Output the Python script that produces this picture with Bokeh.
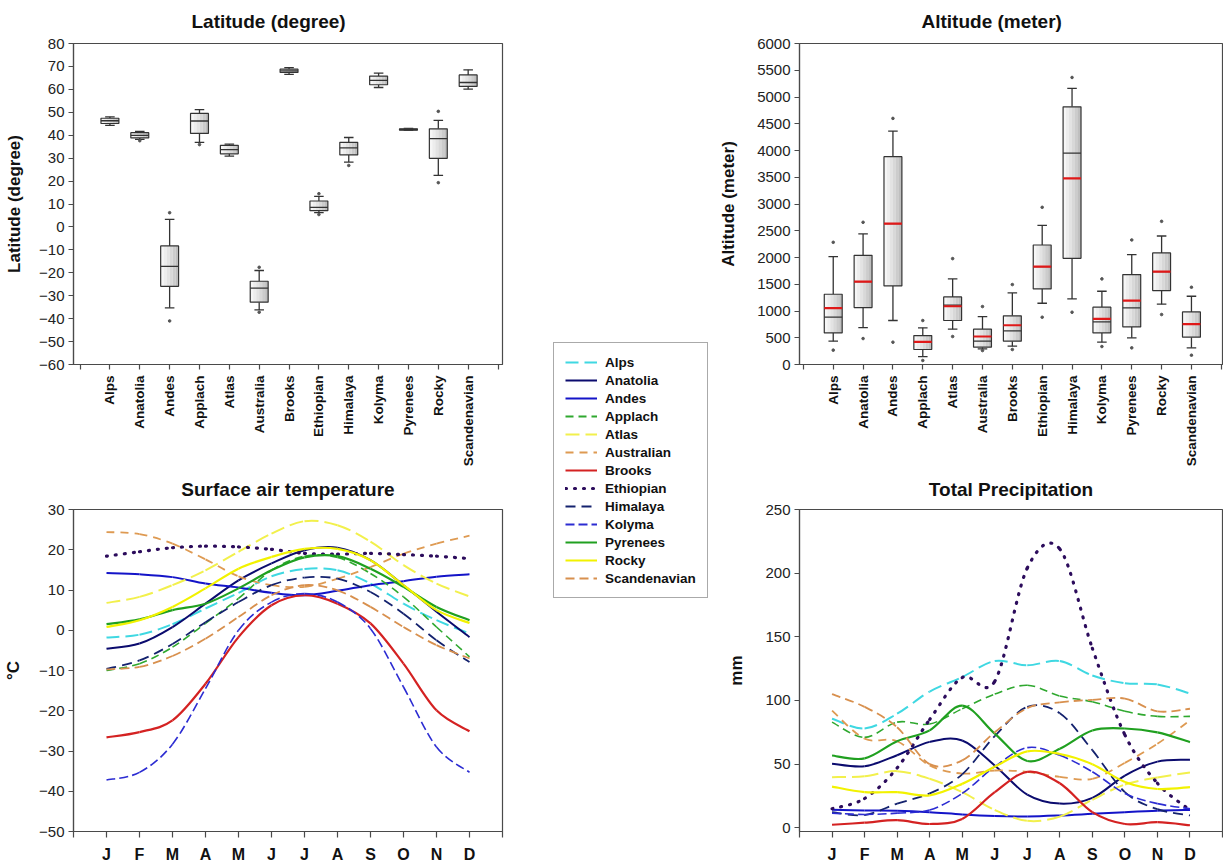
import numpy as np
from bokeh.plotting import figure
from bokeh.models import Range1d, FixedTicker, ColumnDataSource, Legend, LegendItem
from bokeh.layouts import row, column
from bokeh.transform import dodge
from bokeh.embed import file_html
from bokeh.resources import INLINE

FONT = "Liberation Sans"

# ---------------------------------------------------------------- data
regions = ["Alps", "Anatolia", "Andes", "Applach", "Atlas", "Australia", "Brooks",
           "Ethiopian", "Himalaya", "Kolyma", "Pyrenees", "Rocky", "Scandenavian"]

# latitude of the stations (degree): box-plot statistics per region
lat_min = [44.3, 38.2, -35.3, 36.9, 30.9, -36.2, 66.5, 6.2, 28.3, 60.8, 42.1, 22.5, 60.1]
lat_q1 = [45.1, 38.8, -25.9, 40.8, 31.9, -32.8, 67.4, 7.1, 31.4, 62.0, 42.2, 29.9, 61.3]
lat_med = [46.3, 39.9, -17.2, 46.2, 33.7, -26.7, 68.1, 8.5, 34.5, 63.9, 42.5, 38.5, 63.0]
lat_q3 = [47.4, 41.1, -8.3, 49.5, 35.6, -23.7, 68.8, 11.3, 36.9, 65.8, 42.8, 42.8, 66.3]
lat_max = [48.0, 41.7, 3.3, 51.2, 36.1, -19.0, 69.5, 13.3, 39.0, 67.1, 43.0, 46.5, 68.5]
lat_out_region = ["Anatolia", "Andes", "Andes", "Applach", "Australia", "Australia",
                  "Ethiopian", "Ethiopian", "Himalaya", "Rocky", "Rocky"]
lat_out_value = [37.6, 6.2, -41.0, 35.9, -17.6, -37.2, 14.5, 5.4, 26.8, 50.4, 19.3]

# altitude of the stations (meter): box-plot statistics per region, plus mean
alt_min = [436, 691, 822, 149, 660, 292, 342, 1145, 1226, 417, 498, 1127, 311]
alt_q1 = [591, 1064, 1469, 280, 822, 324, 436, 1413, 1985, 591, 703, 1382, 510]
alt_med = [884, 1550, 2633, 423, 1110, 436, 629, 1830, 3952, 797, 1058, 1736, 753]
alt_mean = [1052, 1550, 2633, 423, 1089, 523, 734, 1830, 3479, 853, 1195, 1736, 753]
alt_q3 = [1313, 2041, 3884, 541, 1263, 660, 909, 2234, 4817, 1071, 1680, 2085, 983]
alt_max = [2017, 2440, 4363, 685, 1600, 896, 1338, 2602, 5160, 1369, 2054, 2402, 1276]
alt_out_hi = [2284, 2658, 4600, 822, 1979, 1083, 1494, 2938, 5365, 1600, 2328, 2676, 1444]
alt_out_lo = [268, 485, 417, 75, 523, 261, 280, 884, 977, 336, 311, 934, 174]

months = ["J", "F", "M", "A", "M", "J", "J", "A", "S", "O", "N", "D"]
series = ["Alps", "Anatolia", "Andes", "Applach", "Atlas", "Australian", "Brooks",
          "Ethiopian", "Himalaya", "Kolyma", "Pyrenees", "Rocky", "Scandenavian"]

# monthly surface air temperature (deg C)
t_alps = [-1.8, -1.1, 1.5, 5.4, 9.3, 13.4, 15.2, 14.9, 11.6, 6.6, 2.5, -0.8]
t_anatolia = [-4.6, -3.3, 0.8, 6.6, 12.4, 16.6, 19.9, 20.5, 17.4, 11.2, 4.6, -1.7]
t_andes = [14.2, 13.9, 13.2, 11.6, 10.6, 9.3, 8.7, 9.8, 11.2, 12.2, 13.3, 13.9]
t_applach = [-10.0, -8.3, -4.2, 1.7, 7.9, 14.9, 18.4, 18.1, 14.1, 8.3, 0.8, -6.6]
t_atlas = [6.8, 8.3, 11.2, 14.9, 19.5, 24.0, 27.1, 26.1, 22.0, 16.2, 11.6, 8.4]
t_australian = [24.4, 23.9, 21.5, 17.6, 13.4, 11.2, 10.8, 12.8, 15.7, 19.0, 21.5, 23.5]
t_brooks = [-26.6, -25.3, -22.4, -13.3, -1.7, 6.2, 8.7, 6.6, 1.7, -8.3, -19.9, -25.1]
t_ethiopian = [18.4, 19.5, 20.5, 20.9, 20.7, 20.1, 19.1, 18.9, 19.1, 18.8, 18.4, 17.8]
t_himalaya = [-9.6, -7.5, -3.4, 2.0, 7.0, 11.2, 13.1, 12.8, 9.5, 4.1, -2.5, -7.9]
t_kolyma = [-37.2, -35.3, -28.3, -14.5, 0.0, 7.0, 9.1, 7.0, 0.4, -14.1, -29.0, -35.3]
t_pyrenees = [1.5, 2.7, 5.0, 6.6, 10.4, 14.9, 18.1, 18.4, 15.3, 10.8, 5.8, 2.5]
t_rocky = [0.8, 2.5, 5.8, 10.4, 15.3, 18.2, 20.2, 20.2, 17.4, 11.2, 5.0, 1.8]
t_scandenavian = [-9.7, -9.1, -6.4, -2.1, 3.3, 8.7, 11.2, 9.9, 5.8, 0.8, -3.7, -7.0]

# monthly total precipitation (mm)
p_alps = [85.7, 78.0, 89.6, 107.0, 118.4, 131.0, 127.6, 131.0, 119.6, 113.6, 112.6, 105.5]
p_anatolia = [50.3, 48.3, 57.0, 67.5, 68.6, 49.0, 26.0, 19.0, 23.5, 41.0, 52.0, 53.4]
p_andes = [14.2, 13.6, 13.4, 12.3, 10.5, 9.3, 8.9, 9.7, 11.0, 12.3, 13.4, 14.0]
p_applach = [83.0, 71.0, 83.0, 81.5, 93.5, 105.0, 112.0, 103.5, 99.0, 91.5, 87.5, 87.5]
p_atlas = [39.8, 40.5, 44.5, 38.5, 28.0, 14.0, 5.5, 8.8, 22.0, 34.0, 39.5, 43.5]
p_australian = [92.0, 70.0, 68.0, 49.0, 42.6, 45.0, 44.0, 40.0, 38.5, 51.0, 66.0, 84.3]
p_brooks = [2.4, 4.0, 6.0, 3.0, 7.0, 28.0, 44.0, 35.0, 12.3, 3.0, 4.4, 2.0]
p_ethiopian = [15.0, 23.0, 47.0, 85.0, 118.0, 115.0, 204.0, 219.0, 141.0, 73.0, 35.0, 14.0]
p_himalaya = [12.3, 10.0, 19.0, 27.0, 42.0, 72.0, 95.0, 90.0, 61.0, 28.0, 14.6, 9.7]
p_kolyma = [11.5, 10.5, 11.5, 14.0, 27.0, 48.0, 63.0, 57.0, 44.0, 27.0, 19.0, 15.0]
p_pyrenees = [56.8, 54.5, 68.0, 76.5, 96.0, 74.0, 52.5, 62.0, 76.4, 78.0, 75.0, 67.3]
p_rocky = [32.4, 28.0, 28.0, 25.5, 34.5, 48.0, 60.0, 58.0, 50.0, 36.0, 30.5, 32.0]
p_scandenavian = [105.0, 95.0, 79.0, 50.0, 53.0, 75.0, 94.0, 98.5, 100.5, 101.5, 91.5, 93.5]

temperature = [t_alps, t_anatolia, t_andes, t_applach, t_atlas, t_australian, t_brooks,
               t_ethiopian, t_himalaya, t_kolyma, t_pyrenees, t_rocky, t_scandenavian]
precipitation = [p_alps, p_anatolia, p_andes, p_applach, p_atlas, p_australian, p_brooks,
                 p_ethiopian, p_himalaya, p_kolyma, p_pyrenees, p_rocky, p_scandenavian]

# ---------------------------------------------------------------- line styles
line_colors = ["#3fd8e2", "#0b0b6e", "#1414c8", "#2fa82f", "#f2f04c", "#de9a52", "#d42222",
               "#2c0c5c", "#14226e", "#2c2cd2", "#20a020", "#f2f200", "#d8904e"]
line_dashes = ["13 6", "solid", "solid", "8 5", "14 6", "8 6", "solid",
               "1 8", "10 6", "9 4", "solid", "solid", "9 5"]
line_widths = [2, 2, 2, 1.6, 2, 1.8, 2.2, 3.2, 1.8, 1.6, 2.2, 2.2, 1.8]
DOTTED = "1 8"

AX = "#4a4a4a"


def style_axes(p, label_standoff):
    p.grid.visible = False
    p.outline_line_color = AX
    p.outline_line_width = 1.2
    p.background_fill_color = "white"
    p.border_fill_color = "white"
    for ax in p.axis:
        ax.axis_line_color = AX
        ax.axis_line_width = 1.2
        ax.major_tick_line_color = AX
        ax.major_tick_line_width = 1.2
        ax.minor_tick_line_color = None
        ax.major_tick_in = 0
        ax.major_tick_out = 5
        ax.major_label_text_font = FONT
        ax.major_label_text_font_size = "15px"
        ax.major_label_text_color = "#222222"
        ax.axis_label_text_font = FONT
        ax.axis_label_text_font_style = "bold"
        ax.axis_label_text_font_size = "17px"
        ax.axis_label_text_color = "#111111"
        ax.axis_label_standoff = label_standoff
    p.yaxis.major_label_standoff = 4
    p.title.text_font = FONT
    p.title.text_font_size = "19px"
    p.title.text_font_style = "bold"
    p.title.text_color = "#111111"
    p.title.vertical_align = "top"


def box_panel(title, ylabel, yr, ystep, mins, q1, med, q3, maxs, out_x, out_v,
              xr, width, borders, title_offset, label_standoff, mean=None):
    p = figure(width=width, height=470, output_backend="svg", toolbar_location=None,
               x_range=Range1d(*xr), y_range=Range1d(*yr), title=title,
               min_border_left=borders[0], min_border_right=borders[1],
               min_border_top=43, min_border_bottom=106)
    style_axes(p, label_standoff)
    p.title.align = "left"
    p.title.offset = title_offset
    p.title.standoff = 19
    p.yaxis.axis_label = ylabel
    p.yaxis.ticker = FixedTicker(ticks=list(np.arange(yr[0], yr[1] + 1, ystep)))
    pos = list(range(1, len(regions) + 1))
    p.xaxis.ticker = FixedTicker(ticks=list(range(0, len(regions) + 2)))
    overrides = {i + 1: name for i, name in enumerate(regions)}
    overrides[0] = ""
    overrides[len(regions) + 1] = ""
    p.xaxis.major_label_overrides = overrides
    p.xaxis.major_label_orientation = np.pi / 2
    p.xaxis.major_label_text_font_style = "bold"
    p.xaxis.major_label_text_font_size = "13.5px"
    p.xaxis.major_label_text_color = "#111111"
    p.xaxis.major_label_standoff = 6

    src = ColumnDataSource(dict(x=pos, lo=mins, q1=q1, med=med, q3=q3, hi=maxs))
    bw = 0.6
    # whiskers and caps
    p.segment(x0="x", y0="q3", x1="x", y1="hi", source=src, line_color="#333333", line_width=1.3)
    p.segment(x0="x", y0="lo", x1="x", y1="q1", source=src, line_color="#333333", line_width=1.3)
    for key in ("lo", "hi"):
        p.segment(x0=dodge("x", -0.16), y0=key, x1=dodge("x", 0.16), y1=key, source=src,
                  line_color="#333333", line_width=1.3)
    # shaded box body
    shades = ["#f6f6f6", "#ededed", "#e3e3e3", "#d8d8d8", "#cccccc", "#bfbfbf"]
    sw = bw / len(shades)
    for k, c in enumerate(shades):
        p.vbar(x=dodge("x", -bw / 2 + (k + 0.5) * sw), width=sw * 1.02, bottom="q1", top="q3",
               source=src, fill_color=c, line_color=None)
    p.vbar(x="x", width=bw, bottom="q1", top="q3", source=src, fill_color=None,
           line_color="#333333", line_width=1.2)
    p.segment(x0=dodge("x", -bw / 2), y0="med", x1=dodge("x", bw / 2), y1="med", source=src,
              line_color="#333333", line_width=1.3)
    if mean is not None:
        msrc = ColumnDataSource(dict(x=pos, m=mean))
        p.segment(x0=dodge("x", -bw / 2), y0="m", x1=dodge("x", bw / 2), y1="m", source=msrc,
                  line_color="#e01818", line_width=2.2)
    ox = [regions.index(r) + 1 for r in out_x]
    p.scatter(x=ox, y=out_v, size=2.6, color="#555555")
    return p


def spline_segments(xs, ys):
    x = np.asarray(xs, float)
    y = np.asarray(ys, float)
    xp = np.r_[x[0], x, x[-1]]
    yp = np.r_[y[0], y, y[-1]]
    i = np.arange(len(x) - 1)
    return dict(x0=xp[i + 1], y0=yp[i + 1], x1=xp[i + 2], y1=yp[i + 2],
                cx0=xp[i + 1] + (xp[i + 2] - xp[i]) / 6, cy0=yp[i + 1] + (yp[i + 2] - yp[i]) / 6,
                cx1=xp[i + 2] - (xp[i + 3] - xp[i + 1]) / 6, cy1=yp[i + 2] - (yp[i + 3] - yp[i + 1]) / 6)


def month_panel(title, ylabel, yr, ystep, data, width, borders, label_standoff):
    p = figure(width=width, height=395, output_backend="svg", toolbar_location=None,
               x_range=Range1d(0, 13), y_range=Range1d(*yr), title=title,
               min_border_left=borders[0], min_border_right=borders[1],
               min_border_top=39, min_border_bottom=34)
    style_axes(p, label_standoff)
    p.title.align = "center"
    p.title.standoff = 15
    p.yaxis.axis_label = ylabel
    lo = int(np.ceil(yr[0] / ystep) * ystep)
    p.yaxis.ticker = FixedTicker(ticks=list(range(lo, int(yr[1]) + 1, ystep)))
    p.xaxis.ticker = FixedTicker(ticks=list(range(0, 14)))
    ov = {i + 1: m for i, m in enumerate(months)}
    ov[0] = ""
    ov[13] = ""
    p.xaxis.major_label_overrides = ov
    p.xaxis.major_label_text_font_style = "bold"
    p.xaxis.major_label_text_font_size = "16px"
    p.xaxis.major_label_text_color = "#111111"
    p.xaxis.major_label_standoff = 8
    p.xaxis.major_tick_out = 6
    mx = list(range(1, 13))
    for vals, c, d, w in zip(data, line_colors, line_dashes, line_widths):
        seg = ColumnDataSource(spline_segments(mx, vals))
        p.bezier(x0="x0", y0="y0", x1="x1", y1="y1", cx0="cx0", cy0="cy0", cx1="cx1", cy1="cy1",
                 source=seg, line_color=c, line_width=w, line_dash=d,
                 line_cap="round" if d == DOTTED else "butt")
    return p


lat = box_panel("Latitude (degree)", "Latitude (degree)", (-60, 80), 10,
                lat_min, lat_q1, lat_med, lat_q3, lat_max, lat_out_region, lat_out_value,
                xr=(-0.22, 14.15), width=520, borders=(71, 18), title_offset=118,
                label_standoff=12)
alt = box_panel("Altitude (meter)", "Altitude (meter)", (0, 6000), 500,
                alt_min, alt_q1, alt_med, alt_q3, alt_max, regions * 2, alt_out_hi + alt_out_lo,
                xr=(-0.13, 14.04), width=507, borders=(81, 1), title_offset=122,
                label_standoff=16, mean=alt_mean)

tmp = month_panel("Surface air temperature", "\u00b0C", (-50, 30), 10, temperature,
                  width=520, borders=(73, 18), label_standoff=13)
pre = month_panel("Total Precipitation", "mm", (-2.9, 250), 50, precipitation,
                  width=507, borders=(80, 1), label_standoff=16)

# shared legend for the two monthly panels; its sample renderers sit outside the view
mid = figure(width=196, height=865, output_backend="svg", toolbar_location=None,
             x_range=Range1d(0, 1), y_range=Range1d(0, 1),
             x_axis_location=None, y_axis_location=None,
             min_border_left=0, min_border_right=0, min_border_top=0, min_border_bottom=0)
mid.grid.visible = False
mid.outline_line_color = None
items = []
for name, c, d, w in zip(series, line_colors, line_dashes, line_widths):
    r = mid.line(x=[-5, -4], y=[-5, -5], line_color=c, line_width=max(w, 2), line_dash=d,
                 line_cap="round" if d == DOTTED else "butt")
    items.append(LegendItem(label=name, renderers=[r]))
leg = Legend(items=items, location=(33, 267), orientation="vertical",
             label_text_font=FONT, label_text_font_style="bold", label_text_font_size="13.5px",
             label_text_color="#111111", glyph_width=32, glyph_height=16, label_height=16,
             spacing=2, padding=11, margin=0, label_standoff=8,
             border_line_color="#555555", border_line_width=1, background_fill_color="white")
mid.add_layout(leg)

layout = row(column(lat, tmp), mid, column(alt, pre))

with open("out.html", "w") as f:
    f.write(file_html(layout, INLINE))
